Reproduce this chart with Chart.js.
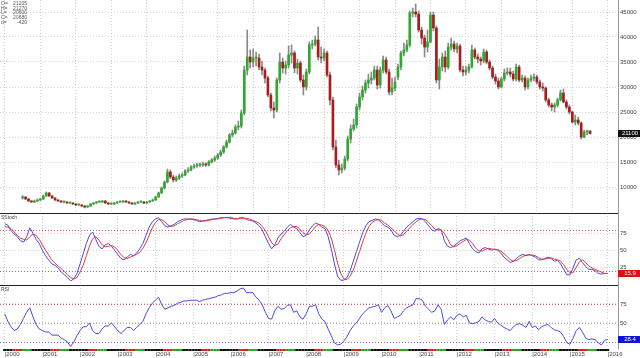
<!DOCTYPE html>
<html><head><meta charset="utf-8">
<script src="https://cdn.jsdelivr.net/npm/chart.js@4.4.1/dist/chart.umd.min.js"></script>
<style>
html,body{margin:0;padding:0;background:#fff;width:640px;height:358px;overflow:hidden}
.pane{position:absolute;left:0;width:640px}
#p1{top:0;height:213px}
#p2{top:213px;height:72px}
#p3{top:285px;height:73px}
</style></head><body>
<div class="pane" id="p1"><canvas id="c1"></canvas></div>
<div class="pane" id="p2"><canvas id="c2"></canvas></div>
<div class="pane" id="p3"><canvas id="c3"></canvas></div>
<script>
// ---------- data (monthly candles, Jan 2000 .. Jan 2016) ----------
const yearLabels = ['2000','2001','2002','2003','2004','2005','2006','2007','2008','2009','2010','2011','2012','2013','2014','2015','2016'];

const open = [
 7800,8000,7600,7200,7000,7200,7400,7600,8200,8800,8200,7800,
 7400,7200,7000,7000,6800,6800,6600,6400,6400,6200,6000,6200,
 6600,6800,7000,7000,7200,6800,6600,6600,6800,7000,7000,7200,
 7000,6800,6600,6800,7000,7000,6800,7000,7200,7400,8000,8800,
 9800,11000,13000,12000,11400,11800,12200,12400,13200,13400,14000,14200,
 14400,14400,14600,14400,15000,15400,15800,16400,17000,18000,19000,20400,
 20800,22000,22200,24800,33400,36000,35000,35800,35800,34000,33400,31800,
 28400,25800,25400,31400,35000,33800,34400,36400,36800,33800,34800,31400,
 30000,33000,38400,38600,39400,36000,35800,36800,32400,27400,18000,14400,
 13400,13800,15600,19600,21600,22400,26000,28000,29400,30800,31400,31800,
 33400,30400,33400,35400,33000,29000,29800,32000,34000,36800,37400,38400,
 44800,45000,44600,41400,39800,38000,39000,44400,41800,31400,34000,36000,
 34000,38000,38600,37600,38200,33400,33000,33400,34000,37400,36000,35600,
 35200,37000,35000,33800,32000,31200,30000,31600,32800,33000,32600,31600,
 34000,31400,31800,30000,31400,31800,32000,31000,30000,29800,27400,26400,
 26000,26400,27400,28800,27000,26000,25000,23000,23400,22800,20000,21000,
 21205];
const high = [
 8300,8100,7700,7300,7400,7600,7800,8400,9000,8900,8300,7900,
 7500,7300,7200,7100,6900,6900,6700,6600,6500,6300,6300,6700,
 6900,7100,7200,7300,7300,6900,6800,6900,7100,7200,7300,7300,
 7100,6900,6900,7100,7200,7100,7100,7300,7600,8200,9000,10000,
 11200,13600,13400,12400,12200,12600,12800,13500,13900,14300,14600,14800,
 14800,15000,14900,15300,15700,16200,16700,17400,18300,19400,20700,21400,
 22400,23200,25400,34200,41400,37400,37600,37000,36600,35200,33800,32200,
 28800,27000,31800,36800,35800,35200,38200,38400,37200,35600,35200,32400,
 33600,39000,39400,40200,42000,38000,37600,37200,33000,28000,19400,15400,
 14600,16200,20200,22400,23600,26600,28800,30200,31400,32600,33000,34200,
 34200,34000,36200,36000,33600,31800,32000,34600,37200,38800,39400,45200,
 45800,46600,45200,42000,40400,41400,45000,45000,42200,35600,36800,37200,
 38800,39800,39200,38800,38600,34200,34200,34600,38400,37800,36600,36000,
 37600,37400,35400,34200,32600,31800,32000,33600,33800,33800,33200,34600,
 34400,32400,32200,31800,32400,32600,32400,31400,30800,30000,27800,26800,
 26800,27800,29400,29600,27400,26400,25200,24400,24000,23000,21400,21400,
 21270];
const low = [
 7600,7500,7100,6900,6900,7100,7300,7500,8100,8100,7700,7300,
 7100,6900,6800,6700,6700,6500,6300,6300,6100,5800,5900,6100,
 6500,6700,6900,6900,6700,6500,6500,6500,6700,6900,6900,6900,
 6700,6500,6500,6700,6900,6700,6700,6900,7100,7300,7900,8700,
 9600,10800,11700,11000,11100,11500,11900,12200,12900,13200,13700,13900,
 14000,14100,14100,14200,14800,15100,15500,16100,16700,17800,18800,20000,
 20600,21400,21800,24400,32400,33800,34000,34200,33400,32400,30800,28000,
 25200,23800,25000,30800,32800,32600,33800,34800,32800,32600,31000,28400,
 29400,32600,37600,38200,35400,34800,35200,32000,26400,17400,13800,12400,
 12800,13400,15200,18800,21200,21800,25400,27400,28800,29800,30600,31400,
 29600,29800,32800,32600,28400,28400,29200,31400,33400,36200,37000,38000,
 44000,44000,41000,38600,36000,37000,38800,41200,30800,29600,33200,33000,
 33600,37400,37000,36800,33000,32200,32400,32800,33800,35600,34800,34400,
 34800,34600,33400,31600,30600,29600,29800,31200,32400,32000,31200,31200,
 31000,31000,29400,29600,31000,31200,30600,29600,29200,27000,26000,25200,
 25000,26000,27200,26800,25600,24600,22800,22400,22400,19600,19800,20400,
 20600];
const close = [
 8000,7600,7200,7000,7200,7400,7600,8200,8800,8200,7800,7400,
 7200,7000,7000,6800,6800,6600,6400,6400,6200,6000,6200,6600,
 6800,7000,7000,7200,6800,6600,6600,6800,7000,7000,7200,7000,
 6800,6600,6800,7000,7000,6800,7000,7200,7400,8000,8800,9800,
 11000,13000,12000,11400,11800,12200,12400,13200,13400,14000,14200,14400,
 14400,14600,14400,15000,15400,15800,16400,17000,18000,19000,20400,20800,
 22000,22200,24800,33400,36000,35000,35800,35800,34000,33400,31800,28400,
 25800,25400,31400,35000,33800,34400,36400,36800,33800,34800,31400,30000,
 33000,38400,38600,39400,36000,35800,36800,32400,27400,18000,14400,13400,
 13800,15600,19600,21600,22400,26000,28000,29400,30800,31400,31800,33400,
 30400,33400,35400,33000,29000,29800,31000,34000,36800,37400,38400,44800,
 45000,44600,41400,39800,38000,39000,44400,41800,31400,34000,36000,34000,
 38000,38600,37600,38200,33400,33000,33400,34000,37400,36000,35600,35200,
 37000,35000,33800,32000,31200,30000,31600,32800,33000,32600,31600,34000,
 31400,31800,30000,31400,31800,32000,31000,30000,29800,27400,26400,26000,
 26400,27400,28800,27000,26000,25000,23000,23400,22800,20000,21000,21000,
 20680];

const stochK = [
 89,87,79,74,70,64,62,70,83,75,66,60,
 50,42,36,30,28,24,18,14,10,5,8,16,
 30,45,60,72,77,66,56,52,58,60,56,50,
 44,38,36,40,44,42,46,52,60,72,84,92,
 96,98,92,86,84,86,88,92,94,96,96,96,
 95,94,92,93,94,95,96,96,97,98,98,98,
 97,96,96,98,98,95,94,93,90,86,80,70,
 60,52,58,68,74,78,84,88,84,82,76,70,
 72,80,86,90,88,84,82,70,52,30,12,6,
 6,10,20,34,48,62,76,86,92,94,96,95,
 90,86,84,80,72,70,72,78,84,88,92,96,
 97,96,92,86,80,78,82,80,64,56,54,56,
 60,64,66,68,60,52,48,46,52,54,52,50,
 52,50,46,40,36,32,34,38,42,44,42,44,
 42,40,36,36,38,40,38,34,35,30,22,14,
 14,24,36,38,32,26,22,22,20,16,15,16,
 15.9];
const stochD = [
 85,84,82,77,72,68,66,65,70,74,72,66,
 58,50,43,36,31,27,23,19,14,10,8,10,
 18,28,42,56,67,70,65,58,55,56,57,55,
 50,44,39,38,40,42,44,47,53,61,72,83,
 91,95,95,92,87,85,86,89,91,94,95,96,
 96,95,94,93,93,94,95,96,96,97,98,98,
 98,97,96,97,97,97,96,94,92,90,85,79,
 70,61,57,59,67,73,79,83,85,85,81,76,
 73,74,79,85,88,87,85,79,68,51,31,16,
 8,7,12,21,34,48,62,75,85,91,94,95,
 94,90,87,83,79,74,71,73,78,83,88,92,
 95,96,95,91,86,81,80,80,75,67,58,55,
 57,60,63,66,65,60,53,49,49,51,53,52,
 51,51,49,45,41,36,34,35,38,41,43,43,
 43,42,39,37,37,38,39,37,36,34,29,22,
 17,17,25,33,36,32,27,24,22,20,18,16,
 16];
const rsi = [
 62,52,45,40,42,48,56,64,70,58,48,42,
 40,38,38,34,34,34,30,28,25,19,25,33,
 40,45,45,50,40,36,36,42,46,46,50,45,
 40,36,40,44,44,40,44,48,52,62,70,76,
 80,84,74,68,70,72,73,76,77,79,79,80,
 80,80,78,80,81,82,83,84,86,87,89,89,
 90,90,92,95,96,90,90,90,84,80,74,64,
 56,55,66,72,68,69,73,74,64,66,58,55,
 62,72,72,74,62,55,52,42,33,24,21,22,
 26,32,40,46,50,56,62,66,70,71,72,74,
 64,70,73,66,56,58,60,66,70,72,74,82,
 82,80,72,68,64,66,74,68,48,54,58,54,
 60,62,58,60,50,49,50,52,58,54,52,51,
 56,50,47,44,42,40,45,48,49,47,44,52,
 44,46,41,45,47,48,44,41,40,38,32,24,
 22,30,40,44,38,30,28,29,28,24,21,27,
 28.4];

const priceTicks = [10000,15000,20000,25000,30000,35000,40000,45000];
const stochTicks = [25,50,75];
const rsiTicks = [50,75];
const stochLevels = [{v:80,c:'#e06060'},{v:20,c:'#7070e0'}];
const rsiLevels = [{v:75,c:'#e06060'},{v:50,c:'#b0b0b0'},{v:25,c:'#7070e0'}];
const legendRows = [['O=','21205'],['H=','21270'],['L=','20600'],['C=','20680'],['d=','-420']];
const priceMarker = '21100';
// colour of the time strip under the RSI pane, by quarter of the year
const quarterColors = ['#111111','#d42020','#22a822','#111111'];

// ---------- styling ----------
const FONT = 'Liberation Sans';
const UP = '#2fa82f', DOWN = '#a81c1c', WICK = '#8a8a8a';
const BLUE = '#4a4ae8', RED = '#e03a3a';

function noPad(s){ s.paddingTop=0; s.paddingBottom=0; s.paddingLeft=0; s.paddingRight=0; }
function xAxis(showLabels){
  return {
    type:'linear', min:-1.5, max:195.3,
    afterBuildTicks(s){ s.ticks = yearLabels.map((y,k)=>({value:k*12})); },
    ticks:{display:showLabels, autoSkip:false, maxRotation:0, minRotation:0, align:'start', padding:3,
      font:{size:6,family:FONT}, color:'#444',
      callback:(v)=>'|'+yearLabels[Math.round(v/12)]},
    grid:{display:true, color:'#cfcfcf', lineWidth:1, drawTicks:false},
    border:{display:false, dash:[1,2]},
    afterFit(s){ s.height = showLabels ? 10 : 0; noPad(s); }
  };
}
function yAxis(min,max,ticks){
  return {
    position:'right', min, max,
    afterBuildTicks(s){ s.ticks = ticks.map(v=>({value:v})); },
    ticks:{font:{size:6,family:FONT}, color:'#444', crossAlign:'center', padding:2,
      callback:(v)=>String(v)},
    grid:{color:'#d6d6d6', lineWidth:1, drawTicks:false},
    border:{display:true, color:'#9a9a9a', dash:[1,2]},
    afterFit(s){ s.width = 22; noPad(s); }
  };
}
const baseOpts = {
  responsive:true, maintainAspectRatio:false, animation:false,
  layout:{padding:0},
  plugins:{legend:{display:false}, tooltip:{enabled:false}}
};

function levelsPlugin(levels){
  return {id:'levels', beforeDatasetsDraw(chart){
    const {ctx, chartArea:a, scales:{y}} = chart;
    ctx.save(); ctx.lineWidth=1; ctx.setLineDash([1,2]);
    levels.forEach(l=>{ const py=Math.round(y.getPixelForValue(l.v))+0.5;
      ctx.strokeStyle=l.c; ctx.beginPath(); ctx.moveTo(a.left,py); ctx.lineTo(a.right,py); ctx.stroke(); });
    ctx.restore();
  }};
}
function panelPlugin(title){
  return {id:'panel', afterDraw(chart){
    const {ctx, chartArea:a} = chart;
    ctx.save();
    ctx.strokeStyle='#222'; ctx.lineWidth=1;
    ctx.beginPath(); ctx.moveTo(0,a.top+0.5); ctx.lineTo(a.right,a.top+0.5); ctx.stroke();
    ctx.fillStyle='#444'; ctx.font='5px '+FONT; ctx.textBaseline='top';
    ctx.fillText(title, 1, a.top+2);
    ctx.restore();
  }};
}
function markerPlugin(value, text, bg){
  return {id:'marker', afterDraw(chart){
    const {ctx, chartArea:a, scales:{y}} = chart;
    const py = y.getPixelForValue(value);
    ctx.save();
    ctx.fillStyle=bg; ctx.fillRect(a.right, Math.round(py-3.5), chart.width-a.right, 7);
    ctx.fillStyle='#fff'; ctx.font='6px '+FONT; ctx.textAlign='center'; ctx.textBaseline='middle';
    ctx.fillText(text, a.right+(chart.width-a.right)/2+1, Math.round(py-3.5)+3.8);
    ctx.restore();
  }};
}
const legendPlugin = {id:'ohlc', afterDraw(chart){
  const ctx = chart.ctx; ctx.save();
  ctx.fillStyle='#555'; ctx.font='5px '+FONT; ctx.textBaseline='top';
  legendRows.forEach((r,k)=>{ ctx.textAlign='left'; ctx.fillText(r[0],1,1+k*4.7);
    ctx.textAlign='right'; ctx.fillText(r[1],27,1+k*4.7); });
  ctx.restore();
}};
const stripPlugin = {id:'strip', afterDraw(chart){
  const {ctx, chartArea:a, scales:{x}} = chart;
  ctx.save();
  close.forEach((_,i)=>{
    const x0 = x.getPixelForValue(i-0.5), x1 = x.getPixelForValue(i+0.5);
    ctx.fillStyle = quarterColors[Math.floor((i%12)/3)];
    ctx.fillRect(x0, a.bottom+1, x1-x0, 2);
  });
  ctx.restore();
}};

const idx = close.map((_,i)=>i);
const colors = idx.map(i=> close[i]>=open[i] ? UP : DOWN);
new Chart(document.getElementById('c1'), {
  type:'bar',
  data:{datasets:[
    {data: idx.map(i=>({x:i, y:[low[i],high[i]]})), backgroundColor:WICK, barThickness:1, grouped:false, order:2},
    {data: idx.map(i=>({x:i, y:[open[i],close[i]]})), backgroundColor:colors, barThickness:2, minBarLength:1, grouped:false, order:1}
  ]},
  options:{...baseOpts, scales:{x:xAxis(false), y:yAxis(4800,47400,priceTicks)}},
  plugins:[legendPlugin, markerPlugin(close[close.length-1], priceMarker, '#111')]
});

new Chart(document.getElementById('c2'), {
  type:'line',
  data:{datasets:[
    {data: idx.map(i=>({x:i,y:stochD[i]})), borderColor:RED, borderWidth:1, pointRadius:0, tension:0},
    {data: idx.map(i=>({x:i,y:stochK[i]})), borderColor:BLUE, borderWidth:1, pointRadius:0, tension:0}
  ]},
  options:{...baseOpts, scales:{x:xAxis(false), y:yAxis(-1,104.8,stochTicks)}},
  plugins:[levelsPlugin(stochLevels), panelPlugin('SStoch'), markerPlugin(stochK[stochK.length-1], stochK[stochK.length-1].toFixed(1), '#e01010')]
});

new Chart(document.getElementById('c3'), {
  type:'line',
  data:{datasets:[
    {data: idx.map(i=>({x:i,y:rsi[i]})), borderColor:BLUE, borderWidth:1, pointRadius:0, tension:0}
  ]},
  options:{...baseOpts, scales:{x:xAxis(true), y:yAxis(17,100,rsiTicks)}},
  plugins:[levelsPlugin(rsiLevels), panelPlugin('RSI'), stripPlugin, markerPlugin(rsi[rsi.length-1], rsi[rsi.length-1].toFixed(1), '#1010e0')]
});
</script>
</body></html>
